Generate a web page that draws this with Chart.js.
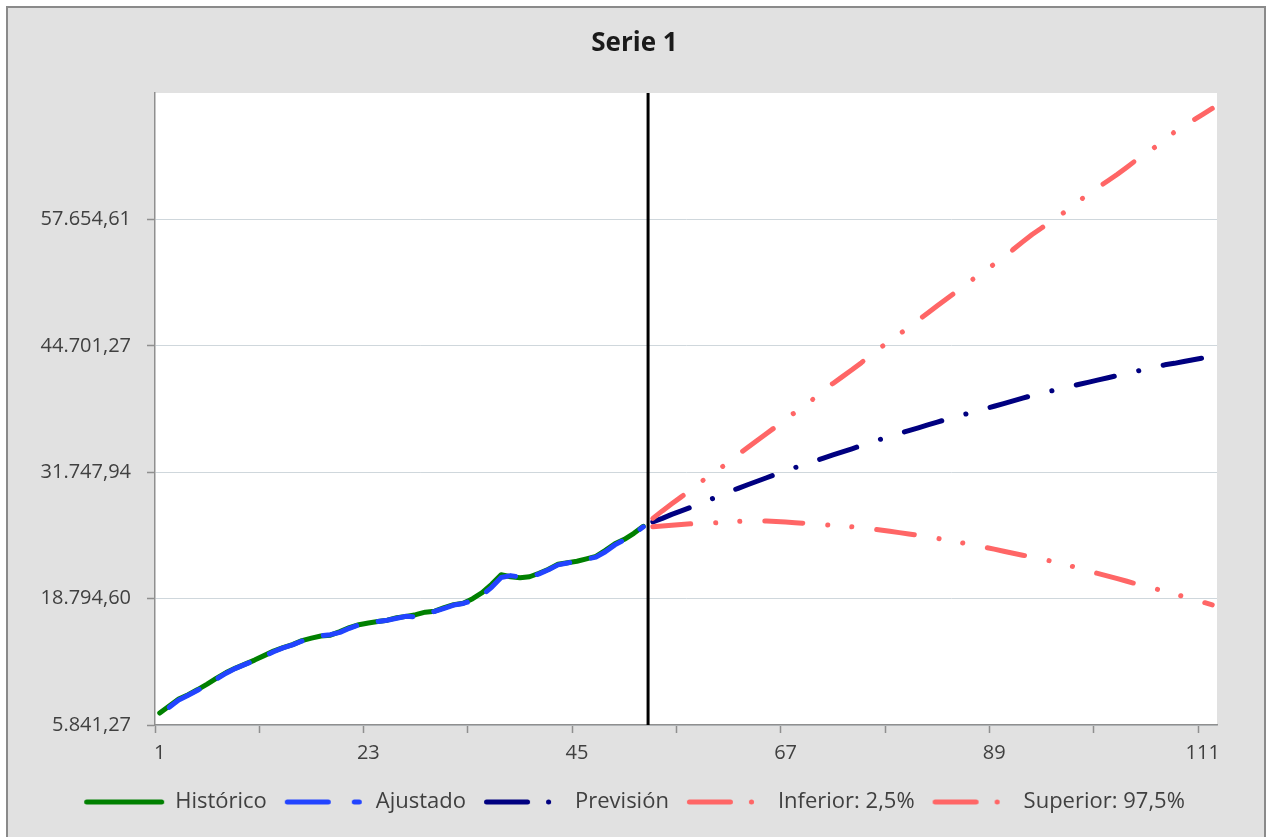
<!DOCTYPE html>
<html>
<head>
<meta charset="utf-8">
<script src="https://cdn.jsdelivr.net/npm/chart.js@4.4.1/dist/chart.umd.min.js"></script>
<style>
html,body{margin:0;padding:0;background:#fff;overflow:hidden}
#wrap{position:absolute;left:0;top:0;width:1269px;height:837px}
</style>
</head>
<body>
<div id="wrap"><canvas id="c" width="1269" height="837"></canvas></div>
<script>
const titleText = 'Serie 1';
const seriesNames = ['Histórico', 'Ajustado', 'Previsión', 'Inferior: 2,5%', 'Superior: 97,5%'];

const histStartCat = 1;
const histValues = [7069, 7785, 8501, 8951, 9473, 10035, 10649, 11212, 11672, 12081,
  12491, 12951, 13411, 13769, 14076, 14485, 14741, 14966, 15048, 15406,
  15815, 16122, 16296, 16439, 16583, 16838, 16971, 17145, 17401, 17503,
  17861, 18168, 18322, 18782, 19396, 20265, 21237, 21033, 20930, 21033,
  21391, 21800, 22311, 22465, 22618, 22874, 23130, 23744, 24408, 24869,
  25483, 26199];

const ajusStartCat = 2;
const ajusValues = [7650, 8400, 8900, 9400, 9950, 10550, 11150, 11650, 12050, 12450,
  12900, 13350, 13750, 14050, 14450, 14750, 14980, 15100, 15330, 15750,
  16100, 16300, 16450, 16580, 16780, 16980, 16900, 17300, 17480, 17800,
  18130, 18300, 18600, 19150, 19950, 20950, 21150, 21000, 21000, 21330,
  21750, 22250, 22450, 22600, 22830, 23050, 23600, 24300, 24820, 25420,
  26150];

const forecastStartCat = 53;
const prevValues = [26659, 27017, 27427, 27784, 28143, 28552, 28931, 29319, 29718, 30097,
  30465, 30823, 31181, 31539, 31876, 32224, 32541, 32869, 33196, 33513,
  33830, 34147, 34475, 34792, 35119, 35416, 35713, 36009, 36296, 36592,
  36879, 37175, 37441, 37707, 37973, 38239, 38505, 38782, 39058, 39334,
  39610, 39846, 40071, 40306, 40541, 40766, 40981, 41206, 41431, 41646,
  41871, 42086, 42311, 42526, 42751, 42904, 43099, 43273, 43446, 43610];

const infValues = [26158, 26240, 26321, 26393, 26454, 26495, 26536, 26577, 26639, 26710,
  26741, 26741, 26741, 26690, 26639, 26577, 26516, 26454, 26373, 26291,
  26209, 26148, 26076, 25943, 25820, 25687, 25554, 25421, 25288, 25155,
  24971, 24787, 24613, 24429, 24255, 24061, 23866, 23651, 23447, 23242,
  23048, 22843, 22639, 22424, 22158, 21892, 21616, 21360, 21094, 20838,
  20572, 20296, 20050, 19795, 19549, 19283, 18997, 18721, 18434, 18148];

const supValues = [27017, 27784, 28511, 29217, 29933, 30690, 31426, 32060, 32797, 33554,
  34280, 34997, 35713, 36429, 37186, 37881, 38557, 39314, 40132, 40848,
  41544, 42239, 42976, 43774, 44510, 45196, 45902, 46608, 47334, 48060,
  48807, 49533, 50239, 50955, 51712, 52418, 53063, 53769, 54566, 55354,
  56111, 56776, 57451, 58116, 58812, 59579, 60306, 60960, 61615, 62280,
  63006, 63743, 64469, 65083, 65768, 66607, 67231, 67814, 68418, 69021];

const dividerCat = 52.5;
const xMin = 0.5, xMax = 112.5;
const xTickCats = [1, 23, 45, 67, 89, 111];
const xTickLabels = ['1', '23', '45', '67', '89', '111'];
const xTickMarkCats = [0.5, 11.5, 22.5, 33.5, 44.5, 55.5, 66.5, 77.5, 88.5, 99.5, 110.5];

const yMin = 5841.27, yMax = 70607.94;
const yTickValues = [5841.27, 18794.60, 31747.94, 44701.27, 57654.61];
const yTickLabels = ['5.841,27', '18.794,60', '31.747,94', '44.701,27', '57.654,61'];

const seriesColors = ['#008000', '#2244ff', '#000080', '#ff6666', '#ff6666'];
const seriesDashes = [[], [35, 22], [39, 25, 0.1, 25], [38, 25, 0.1, 24, 0.1, 25], [38, 25, 0.1, 24, 0.1, 25]];
const legendDashes = [[], [41, 26, 5, 30], [41, 21, 0.1, 40], [41, 21, 0.1, 40], [41, 21, 0.1, 40]];

const toPoints = (arr, start) => arr.map((v, i) => ({x: start + i, y: v}));
const xAllTicks = xTickMarkCats.concat(xTickCats).sort((a, b) => a - b);

function makeSample(color, dash) {
  const cv = document.createElement('canvas');
  cv.width = 84; cv.height = 10;
  const g = cv.getContext('2d');
  g.strokeStyle = color; g.lineWidth = 5; g.lineCap = 'round';
  g.setLineDash(dash);
  g.beginPath(); g.moveTo(4.5, 5); g.lineTo(79.5, 5); g.stroke();
  return cv;
}
const legendSamples = seriesColors.map((c, i) => makeSample(c, legendDashes[i]));

const framePlugin = {
  id: 'frame',
  beforeDraw(chart) {
    const ctx = chart.ctx;
    ctx.save();
    ctx.fillStyle = '#ffffff';
    ctx.fillRect(0, 0, chart.width, chart.height);
    ctx.fillStyle = '#e1e1e1';
    ctx.fillRect(8, 8, 1256, 840);
    ctx.strokeStyle = '#8a8a8a';
    ctx.lineWidth = 2;
    ctx.strokeRect(7, 7, 1258, 860);
    const a = chart.chartArea;
    ctx.fillStyle = '#ffffff';
    ctx.fillRect(a.left, a.top, a.right - a.left, a.bottom - a.top);
    ctx.restore();
  }
};

const common = {pointRadius: 0, pointHoverRadius: 0, tension: 0, borderWidth: 5,
  borderCapStyle: 'round', borderJoinStyle: 'round', fill: false};
const seriesValues = [histValues, ajusValues, prevValues, infValues, supValues];
const seriesStarts = [histStartCat, ajusStartCat, forecastStartCat, forecastStartCat, forecastStartCat];
const seriesOrder = [5, 4, 3, 2, 1];

const datasets = seriesNames.map((name, i) => Object.assign({}, common, {
  label: name, data: toPoints(seriesValues[i], seriesStarts[i]),
  borderColor: seriesColors[i], backgroundColor: seriesColors[i],
  borderDash: seriesDashes[i], order: seriesOrder[i]
}));
datasets.push(Object.assign({}, common, {label: '', data: [{x: dividerCat, y: yMin}, {x: dividerCat, y: yMax}],
  borderColor: '#000000', backgroundColor: '#000000', borderWidth: 3, borderCapStyle: 'butt', order: 0}));

new Chart(document.getElementById('c'), {
  type: 'line',
  data: {datasets},
  options: {
    responsive: false,
    animation: false,
    events: [],
    layout: {padding: {left: 0, right: 0, top: 0, bottom: 14}},
    plugins: {
      title: {display: true, text: titleText, color: '#1a1a1a',
        font: {family: 'Open Sans', size: 26, weight: 'bold'}, padding: {top: 28.4, bottom: 33.4}},
      legend: {position: 'bottom',
        labels: {usePointStyle: true, pointStyleWidth: 80, padding: 18, color: '#404040',
          font: {family: 'Open Sans', size: 22},
          generateLabels: (chart) => Chart.defaults.plugins.legend.labels.generateLabels(chart)
            .filter(it => it.datasetIndex < 5)
            .map(it => Object.assign(it, {pointStyle: legendSamples[it.datasetIndex]})),
          sort: (a, b) => a.datasetIndex - b.datasetIndex}},
      tooltip: {enabled: false}
    },
    scales: {
      x: {
        type: 'linear', min: xMin, max: xMax,
        afterBuildTicks(s) { s.ticks = xAllTicks.map(v => ({value: v})); },
        afterFit(s) { s.height = 48; },
        ticks: {autoSkip: false, maxRotation: 0, minRotation: 0, padding: 8, color: '#404040',
          font: {family: 'Open Sans', size: 20},
          callback: (v) => { const i = xTickCats.indexOf(v); return i >= 0 ? xTickLabels[i] : ''; }},
        grid: {drawOnChartArea: false, drawTicks: true, tickLength: 8, tickWidth: 1.5,
          tickColor: (c) => (c.tick && xTickCats.includes(c.tick.value)) ? 'rgba(0,0,0,0)' : '#8f8f8f'},
        border: {display: true, color: '#8f8f8f', width: 1.5}
      },
      y: {
        type: 'linear', min: yMin, max: yMax,
        afterBuildTicks(s) { s.ticks = yTickValues.map(v => ({value: v})); },
        afterFit(s) { s.width = 155; },
        ticks: {padding: 16, color: '#404040', font: {family: 'Open Sans', size: 20},
          callback: (v) => { const i = yTickValues.indexOf(v); return i >= 0 ? yTickLabels[i] : ''; }},
        grid: {color: '#cfd7dc', lineWidth: 1, drawTicks: true, tickLength: 8, tickColor: '#8f8f8f', tickWidth: 1.5},
        border: {display: true, color: '#8f8f8f', width: 1.5}
      },
      yRight: {
        type: 'linear', position: 'right', display: true, min: 0, max: 1,
        afterFit(s) { s.width = 52; },
        ticks: {display: false},
        grid: {display: false, drawTicks: false},
        border: {display: false}
      }
    }
  },
  plugins: [framePlugin]
});
</script>
</body>
</html>
